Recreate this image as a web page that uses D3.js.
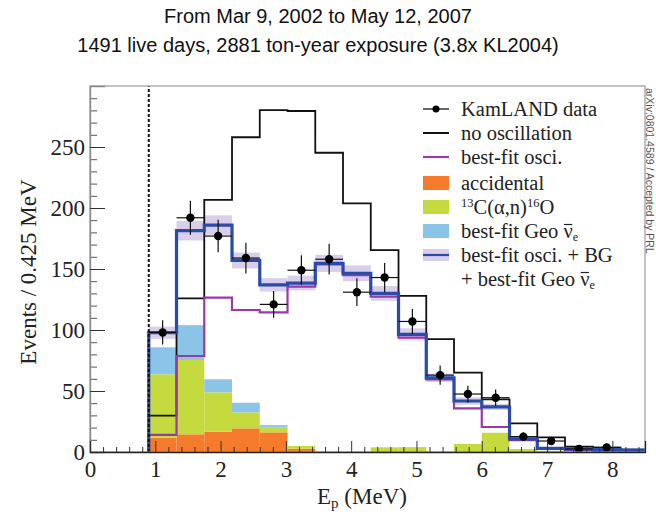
<!DOCTYPE html>
<html><head><meta charset="utf-8">
<script src="https://cdn.jsdelivr.net/npm/d3@7"></script>
<style>body{margin:0;background:#fff}svg{display:block}</style>
</head><body><svg id="c" width="656" height="514"></svg>
<script>
// ---- data ----
const binLow = [0.9,1.325,1.75,2.175,2.6,3.025,3.45,3.875,4.3,4.725,5.15,5.575,6.0,6.425,6.85,7.275,7.7,8.125];
const binWidth = 0.425;
const dataCounts = [98,192,177,159,121,149,158,131,143,107,63,47.5,44.5,12.6,9,2.5,3.8];
const dataErrors = [9.9,13.9,13.3,12.6,11,12.2,12.6,11.4,12,10.3,7.9,6.9,6.7,3.5,3,1.6,1.9];
const noOscillation = [29.8,126,206.6,258,280.3,279.5,245.3,203.8,165.5,128,92.6,65,43.2,23.5,12,4.4,3.5,2];
const bestFitOsc = [14,78.7,126.5,116.4,114.5,135.5,153.8,145,127.3,93.7,59.5,35.8,20.5,9.8,2.5,1.5,1,0.5];
const bestFitTotal = [97.8,181.4,186,157,137,138.5,154.6,146.5,130,96.4,60.8,41.8,37,10.7,3,2.5,2,1.5];
const bandHalfWidth = [5,8,8,6.5,5.5,6,7,6.5,6,5,3.5,3,2.5,1.5,1,0.8,0.8,0.8];
const accidental = [11.7,14.5,16.7,19.4,16.1,2.7,0,0,0,0,0,0,0,0,0,0,0,0];
const carbonAlphaN = [52,60.9,32.2,13.1,3.9,2.2,0,0,3.8,4,0,6.6,15.8,2.5,1,0,0,0];
const geoNu = [22.1,28.6,10.7,7.9,2,0,0,0,0,0,0,0,0,0,0,0,0,0];
const yTickValues = [0,50,100,150,200,250];
const xTickValues = [0,1,2,3,4,5,6,7,8];
const thresholdMeV = 0.9;

const W = 656, H = 514;
const M = {left:90, top:86, right:11, bottom:62};
const svg = d3.select("#c");
const x = d3.scaleLinear().domain([0, 8.5]).range([M.left, W - M.right]);
const y = d3.scaleLinear().domain([0, 300]).range([H - M.bottom, M.top]);

const C = {
  orange:"#f47b2b", green:"#c4da3e", geo:"#8cc4e8", band:"#d9cfea",
  purple:"#9b38a8", blue:"#2a4ca8", black:"#111"
};
const serif = "'Liberation Serif','Times New Roman',serif";
const sans = "'Liberation Sans',Arial,sans-serif";

svg.append("clipPath").attr("id","clip").append("rect")
  .attr("x", x(0)).attr("y", y(300)).attr("width", x(8.5)-x(0)).attr("height", y(0)-y(300));
const plot = svg.append("g").attr("clip-path","url(#clip)");

// stacked backgrounds
const stackRows = binLow.map((lo,i)=>({lo, accidental:accidental[i], carbon:carbonAlphaN[i], geo:geoNu[i]}));
const stacked = d3.stack().keys(["accidental","carbon","geo"])(stackRows);
const fillFor = {accidental:C.orange, carbon:C.green, geo:C.geo};
stacked.forEach(layer=>{
  plot.append("g").attr("fill", fillFor[layer.key]).selectAll("rect").data(layer).join("rect")
    .attr("x", d=>x(d.data.lo)).attr("width", d=>x(d.data.lo+binWidth)-x(d.data.lo))
    .attr("y", d=>y(d[1])).attr("height", d=>Math.max(0, y(d[0])-y(d[1])));
});

// uncertainty band
plot.append("g").attr("fill", C.band).selectAll("rect").data(binLow).join("rect")
  .attr("x", d=>x(d)).attr("width", d=>x(d+binWidth)-x(d))
  .attr("y", (d,i)=>y(bestFitTotal[i]+bandHalfWidth[i]))
  .attr("height", (d,i)=>y(bestFitTotal[i]-bandHalfWidth[i])-y(bestFitTotal[i]+bandHalfWidth[i]));

// step lines
const step = d3.line().x(d=>x(d[0])).y(d=>y(d[1])).curve(d3.curveStepAfter);
function stepPts(vals){
  const pts = [[binLow[0],0]];
  vals.forEach((v,i)=>pts.push([binLow[i], v]));
  pts.push([binLow[binLow.length-1]+binWidth, vals[vals.length-1]]);
  return pts;
}
plot.append("path").attr("d", step(stepPts(noOscillation))).attr("fill","none").attr("stroke",C.black).attr("stroke-width",1.8);
plot.append("path").attr("d", step(stepPts(bestFitOsc))).attr("fill","none").attr("stroke",C.purple).attr("stroke-width",2.2);
plot.append("path").attr("d", step(stepPts(bestFitTotal))).attr("fill","none").attr("stroke",C.blue).attr("stroke-width",3.2);

// threshold dotted line
svg.append("line").attr("x1", x(thresholdMeV)).attr("x2", x(thresholdMeV))
  .attr("y1", y(0)).attr("y2", y(300)).attr("stroke","#111").attr("stroke-width",2).attr("stroke-dasharray","3,2");

// data points
const pts = plot.append("g");
dataCounts.forEach((v,i)=>{
  const c = binLow[i] + binWidth/2;
  pts.append("line").attr("x1", x(c-binWidth/2)).attr("x2", x(c+binWidth/2)).attr("y1", y(v)).attr("y2", y(v)).attr("stroke","#111").attr("stroke-width",1.2);
  pts.append("line").attr("x1", x(c)).attr("x2", x(c)).attr("y1", y(v-dataErrors[i])).attr("y2", y(v+dataErrors[i])).attr("stroke","#111").attr("stroke-width",1.2);
  pts.append("circle").attr("cx", x(c)).attr("cy", y(v)).attr("r",4.2).attr("fill","#000");
});

// frame
svg.append("rect").attr("x", x(0)).attr("y", y(300)).attr("width", x(8.5)-x(0)).attr("height", y(0)-y(300))
  .attr("fill","none").attr("stroke","#999").attr("stroke-width",1.2);

// axes
function styleAxis(g, color){
  g.select(".domain").attr("stroke", color).attr("stroke-width",1.3);
  g.selectAll(".tick line").attr("stroke", "#333");
  g.selectAll("text").attr("font-family", serif).attr("font-size", 23).attr("fill","#222");
}
const yMinor = d3.range(10, 300, 10).filter(v=>v%50!==0);
svg.append("g").attr("transform",`translate(${x(0)},0)`)
  .call(d3.axisLeft(y).tickValues(yMinor).tickSize(-7).tickFormat(""))
  .call(g=>{g.select(".domain").remove(); g.selectAll(".tick line").attr("stroke","#555");});
svg.append("g").attr("transform",`translate(${x(0)},0)`)
  .call(d3.axisLeft(y).tickValues(yTickValues).tickSize(-15).tickPadding(5))
  .call(g=>styleAxis(g,"#888"));
const xMinor = d3.range(0.2, 8.5, 0.2).filter(v=>Math.abs(v-Math.round(v))>0.01);
svg.append("g").attr("transform",`translate(0,${y(0)})`)
  .call(d3.axisBottom(x).tickValues(xMinor).tickSize(-5).tickFormat(""))
  .call(g=>{g.select(".domain").remove(); g.selectAll(".tick line").attr("stroke","#333");});
svg.append("g").attr("transform",`translate(0,${y(0)})`)
  .call(d3.axisBottom(x).tickValues(xTickValues).tickSize(-11).tickPadding(9))
  .call(g=>styleAxis(g,"#222"));

// axis titles
const xt = svg.append("text").attr("x", 362).attr("y", 504).attr("text-anchor","middle")
  .attr("font-family", serif).attr("font-size", 23).attr("fill","#222");
xt.append("tspan").text("E");
xt.append("tspan").attr("font-size",15).attr("dy",4).text("p");
xt.append("tspan").attr("dy",-4).text(" (MeV)");
svg.append("text").attr("transform","translate(36,272) rotate(-90)").attr("text-anchor","middle")
  .attr("font-family", serif).attr("font-size", 23).attr("fill","#222").text("Events / 0.425 MeV");

// title
svg.append("text").attr("x", 318).attr("y", 23).attr("text-anchor","middle")
  .attr("font-family", sans).attr("font-size", 20).attr("fill","#111").text("From Mar 9, 2002 to May 12, 2007");
svg.append("text").attr("x", 318).attr("y", 52).attr("text-anchor","middle")
  .attr("font-family", sans).attr("font-size", 20).attr("fill","#111").text("1491 live days, 2881 ton-year exposure (3.8x KL2004)");

// side note
svg.append("text").attr("transform","translate(646,88) rotate(90)")
  .attr("font-family", sans).attr("font-size", 10.5).attr("fill","#555").text("arXiv:0801.4589 / Accepted by PRL");

// legend
const legendLabels = ["KamLAND data","no oscillation","best-fit osci.","accidental","13C(α,n)16O","best-fit Geo νe","best-fit osci. + BG","+ best-fit Geo νe"];
const legendRowY = [109,133,157,183,207,231,255,279];
const lg = svg.append("g");
const sx0 = 423, sx1 = 449, tx = 461;
legendRowY.forEach((cy,i)=>{
  if(i===0){
    lg.append("line").attr("x1",sx0).attr("x2",sx1).attr("y1",cy).attr("y2",cy).attr("stroke","#111").attr("stroke-width",1.3);
    lg.append("circle").attr("cx",(sx0+sx1)/2).attr("cy",cy).attr("r",3.5).attr("fill","#000");
  } else if(i===1){
    lg.append("line").attr("x1",sx0).attr("x2",sx1).attr("y1",cy).attr("y2",cy).attr("stroke",C.black).attr("stroke-width",2);
  } else if(i===2){
    lg.append("line").attr("x1",sx0).attr("x2",sx1).attr("y1",cy).attr("y2",cy).attr("stroke",C.purple).attr("stroke-width",2.2);
  } else if(i>=3 && i<=5){
    lg.append("rect").attr("x",sx0).attr("y",cy-7).attr("width",sx1-sx0).attr("height",14).attr("fill",[C.orange,C.green,C.geo][i-3]);
  } else if(i===6){
    lg.append("rect").attr("x",sx0).attr("y",cy-6).attr("width",sx1-sx0).attr("height",12).attr("fill",C.band);
    lg.append("line").attr("x1",sx0).attr("x2",sx1).attr("y1",cy).attr("y2",cy).attr("stroke",C.blue).attr("stroke-width",2.2);
  }
  const base = cy + 7;
  const t = lg.append("text").attr("x",tx).attr("y",base).attr("font-family",serif).attr("font-size",20.5).attr("fill","#222");
  if(i===4){
    t.append("tspan").attr("font-size",12.5).attr("dy",-7).text("13");
    t.append("tspan").attr("dy",7).text("C(α,n)");
    t.append("tspan").attr("font-size",12.5).attr("dy",-7).text("16");
    t.append("tspan").attr("dy",7).text("O");
  } else if(i===5 || i===7){
    const head = legendLabels[i].replace("νe","");
    t.append("tspan").text(head);
    t.append("tspan").text("ν");
    t.append("tspan").attr("font-size",12).attr("dy",2.5).text("e");
    // overline (bar) above the ν
    const ext = t.node().getExtentOfChar(head.length);
    lg.append("line").attr("x1", ext.x + 0.5).attr("x2", ext.x + ext.width - 0.5)
      .attr("y1", base - 13.5).attr("y2", base - 13.5).attr("stroke","#222").attr("stroke-width",1.2);
  } else {
    t.text(legendLabels[i]);
  }
});
</script>
</body></html>
